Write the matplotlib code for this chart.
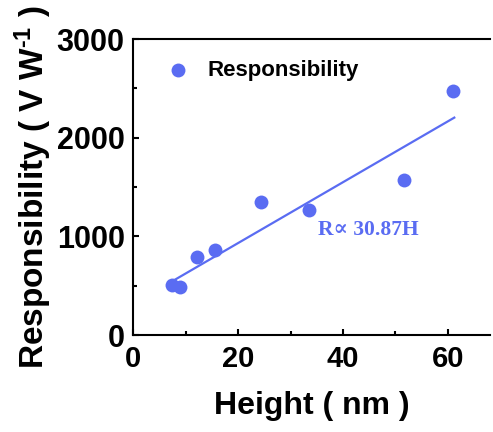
import numpy as np
import matplotlib
matplotlib.use('Agg')
import matplotlib.pyplot as plt
from matplotlib.ticker import MultipleLocator

plt.rcParams['font.family'] = ['Liberation Sans', 'DejaVu Sans']
plt.rcParams['font.weight'] = 'bold'
plt.rcParams['mathtext.fontset'] = 'custom'
plt.rcParams['mathtext.rm'] = 'Liberation Sans:bold'
plt.rcParams['mathtext.bf'] = 'Liberation Sans:bold'
plt.rcParams['mathtext.default'] = 'bf'

# data
height = [7.5, 8.9, 12.1, 15.6, 24.4, 33.6, 51.7, 61.0]
resp = [510, 485, 790, 860, 1345, 1268, 1572, 2475]
fit_x = [7.0, 61.2]
fit_slope = 30.87
fit_intercept = 314

blue = '#5a6cf2'

fig = plt.figure(figsize=(4.93, 4.32), dpi=100)
ax = fig.add_axes([0.2698, 0.2245, 0.7241, 0.6852])

ax.scatter(height, resp, s=100, color=blue, zorder=3, label='Responsibility', linewidths=0)
fx = np.array(fit_x)
ax.plot(fx, fit_slope * fx + fit_intercept, color=blue, lw=1.6)

ax.text(35.2, 1010, 'R\u221d 30.87H', color=blue, fontsize=15.5, fontweight='bold',
        va='baseline', family=['Liberation Serif', 'DejaVu Serif'])

ax.set_xlim(0, 68)
ax.set_ylim(0, 3000)
ax.xaxis.set_major_locator(MultipleLocator(20))
ax.xaxis.set_minor_locator(MultipleLocator(10))
ax.yaxis.set_major_locator(MultipleLocator(1000))
ax.yaxis.set_minor_locator(MultipleLocator(500))
ax.tick_params(which='both', direction='in', width=1.5, top=False, right=False)
ax.tick_params(which='major', length=4)
ax.tick_params(which='minor', length=3)
ax.tick_params(axis='y', labelsize=22, pad=6)
ax.tick_params(axis='x', labelsize=21, pad=7)

for s in ['left', 'bottom', 'top']:
    ax.spines[s].set_linewidth(1.5)
ax.spines['right'].set_visible(False)

ax.set_xlabel('Height ( nm )', fontsize=23, fontweight='bold', labelpad=13)
ax.set_ylabel('Responsibility ( V W$^{\\text{-1}}$ )', fontsize=24, fontweight='bold', labelpad=2)

ax.legend(loc='upper left', frameon=False, fontsize=16, handletextpad=0.3,
          borderaxespad=0.0, scatterpoints=1, bbox_to_anchor=(0.04, 0.96))

fig.savefig('out.png', dpi=100)
